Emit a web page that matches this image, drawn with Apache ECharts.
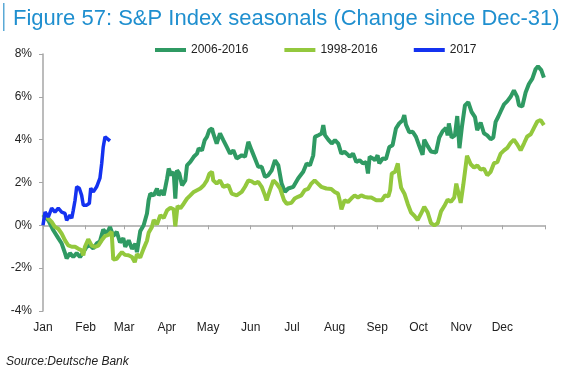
<!DOCTYPE html>
<html><head><meta charset="utf-8">
<script src="https://cdn.jsdelivr.net/npm/echarts@6/dist/echarts.min.js"></script>
<style>html,body{margin:0;padding:0;background:#fff}#c{width:569px;height:385px}</style>
</head><body><div id="c"></div>
<script>
const monthNames = ['Jan','Feb','Mar','Apr','May','Jun','Jul','Aug','Sep','Oct','Nov','Dec'];
const monthStarts = [0,31,59,90,120,151,181,212,243,273,304,334];
const yearEnd = 365;
const yTicks = [-4,-2,0,2,4,6,8];

const days2017 = [0,1.5,3.9,6.3,8.7,11.1,13.6,16,17.2,19.6,20.9,22,23.3,24.5,26.4,28.1,29.3,31.8,33.7,34.7,36.6,39,41.4,42.7,43.8,45.1,46.3,48.7];
const vals2017 = [0,0.62,0.39,0.8,0.62,0.8,0.62,0.56,0.23,0.47,0.33,0.7,1.17,1.8,1.73,1.4,0.94,0.94,1.03,1.73,1.56,1.8,2.2,2.9,3.66,4.13,4.07,3.94];

const days0616 = [0,3.9,7.5,11.1,13.6,16,17.2,19.6,22,24.5,26.9,29.3,31.8,34.2,36.6,39,41.4,43.8,46.3,48.7,51.1,53.6,56,58.4,59.8,62.3,64.7,67.1,68.3,70.7,73.2,75.6,76.8,78,80.5,82.9,84.1,86.5,87.8,90.2,91.4,93.3,95,96.2,97.4,99.1,101.1,103.5,104.7,107.1,109.6,112,113.2,115.6,117.6,119.2,120.9,122.9,123.8,126.3,128.7,131.1,133.6,136,138.4,140.8,144.5,146.9,149.3,151.7,154.1,156.5,159,161.4,163.8,166.3,168.7,171.1,173.5,175.9,178.3,182,185.6,189.2,191.7,194.1,196.5,197.7,200.2,202.6,203.8,205,207.4,209.9,212.3,214.7,216.9,219.3,221.7,223,225.4,227.8,230.2,232.6,235,236.3,237.5,239.9,241.4,243.3,244.5,247,249.4,251.8,254.2,256.6,259,261.5,262.7,263.9,266.3,268.8,271.2,273.6,276,277.2,279.7,282.1,285.7,288.1,290.6,293,294.2,295.1,297.1,299.5,301.2,302.8,304.6,306.8,309.2,311.6,314.1,315.7,318.2,320.6,323,325.5,327.4,329.1,331,333,335.2,337.6,340,342.4,344.8,346.1,348.5,350.9,353.3,355.8,358.2,359.9,362.3,364.2];
const vals0616 = [0.5,0.23,-0.23,-0.6,-0.85,-1.3,-1.55,-1.3,-1.48,-1.3,-1.48,-1.25,-1.0,-0.94,-1.08,-0.85,-0.75,-0.2,-0.4,-0.08,-0.5,-0.3,-0.8,-0.6,-1.0,-0.7,-1.1,-0.86,-1.25,-0.27,0,0.55,1.17,1.48,1.4,1.72,1.4,1.64,1.4,2.18,2.65,2.34,2.5,1.25,2.57,2.42,1.87,2.1,2.8,2.96,3.2,3.35,3.59,3.5,3.98,4.13,4.44,4.52,4.29,3.82,4.29,3.98,3.66,3.35,3.5,3.12,3.27,3.2,3.9,3.5,3.12,2.73,2.73,2.26,2.34,2.57,3.04,2.8,1.95,1.56,1.72,1.8,2.2,2.5,2.89,2.8,3.27,4.13,4.21,4.29,4.68,4.21,4.0,3.82,3.98,3.82,3.35,3.43,3.3,3.2,3.35,2.96,3.04,2.89,2.95,2.42,3.2,3.12,3.04,3.27,2.89,3.12,3.1,3.66,3.74,4.52,4.76,4.91,5.15,4.7,4.35,4.37,4.13,3.7,3.3,4.0,3.7,3.45,3.4,4.1,4.4,4.55,4.2,4.76,4.1,4.2,5.1,3.6,4.6,5.6,5.75,5.3,5.05,4.44,4.8,4.3,4.2,4.02,4.1,4.83,5.07,5.35,5.65,5.8,6.0,6.3,6.0,5.6,5.55,6.2,6.6,6.85,7.3,7.42,7.25,6.9];

const days9816 = [0,2.7,6.3,8.7,11.1,13.6,16,18.4,20.9,23.3,25.7,28.1,29.3,30.5,32.9,35.4,37.8,40.2,42.7,45.1,47.5,49.9,51.1,53.6,56,57.4,59.6,62.1,64.7,66.7,68.3,70.7,73.1,75.6,76.8,79.2,80.5,82.9,85.3,87.8,90.2,92.6,95,96.2,97.8,99.9,102.3,104.7,107.1,109.6,112,114.4,116.9,119.2,120.9,122.9,123.8,126.3,128.7,131.1,134.8,137.2,140.8,144.5,146.9,149.3,151.7,154.1,156.5,159,161.4,162.6,165,167.5,169.9,172.4,175.3,177.2,180.6,183,185.4,187.8,190.3,192.7,195.1,197.5,199.9,202.3,206,209.6,212.1,214.5,215.7,217,219.3,221.7,224.1,226.6,229,231.4,233.9,236.3,238.7,242.3,246.3,248.7,251.1,252.4,253.6,256,258,259.1,260.4,262.8,265.2,267.6,270,272.4,274.9,277.2,279.7,282.1,284.5,287,289.4,291.8,294.2,296.6,299,300.5,301.9,303.7,305.6,308.3,311,313.4,315.8,318.2,320.6,323,325.5,327.9,330.3,332.8,335.2,337.6,340,342.4,344.8,347.3,349.7,352.1,354.6,357,359.4,361.8,364.2];
const vals9816 = [0.5,0.39,0.16,-0.08,-0.16,-0.39,-0.7,-0.94,-1.0,-1.0,-1.09,-1.17,-1.4,-1.0,-0.65,-0.95,-1.01,-0.95,-0.7,-0.5,-0.45,-0.3,-1.6,-1.56,-1.35,-1.25,-1.38,-1.4,-1.48,-1.72,-1.35,-1.5,-1.1,-0.72,-0.35,-0.08,0.25,0.05,0.47,0.35,0.7,0.82,0.75,-0.05,0.9,0.8,1.01,1.25,1.4,1.56,1.64,1.72,1.87,2.1,2.4,2.5,2.1,1.95,2.1,1.8,1.87,1.48,1.4,1.56,1.8,2.1,2.05,1.95,2.03,1.8,1.4,1.17,1.64,2.1,1.95,1.72,1.17,1.01,1.05,1.25,1.33,1.4,1.64,1.7,1.95,2.1,1.95,1.8,1.72,1.7,1.56,1.48,1.17,0.75,1.17,1.09,1.25,1.4,1.3,1.4,1.33,1.3,1.3,1.17,1.17,1.4,1.35,1.64,2.42,2.5,2.89,2.26,1.75,1.48,1.0,0.6,0.45,0.25,0.55,0.86,0.6,0.1,0.0,0.1,0.65,0.9,1.2,1.1,1.3,1.95,1.9,1.05,1.9,3.25,2.85,2.7,2.8,2.6,2.65,2.34,2.5,2.9,2.95,3.35,3.5,3.62,3.85,4.0,3.78,3.5,3.82,4.15,4.25,4.55,4.85,4.92,4.68];

const pairs = (d, v) => d.map((x, i) => [x, v[i]]);
const tickVals = monthStarts.concat([yearEnd]);

const chart = echarts.init(document.getElementById('c'), null, {renderer: 'canvas'});
const axisGrey = '#a6a6a6';
const font = 'Liberation Sans, Arial, sans-serif';
chart.setOption({
  animation: false,
  backgroundColor: '#fff',
  title: {
    text: 'Figure 57: S&P Index seasonals (Change since Dec-31)',
    left: 8, top: 3,
    textStyle: {fontFamily: font, fontSize: 22, fontWeight: 'normal', color: '#1f8fcf'}
  },
  graphic: [
    {type: 'rect', shape: {x: 3, y: 3, width: 1.5, height: 28}, style: {fill: '#5aa9d6'}},
    {type: 'text', left: 6, top: 356, style: {text: 'Source:Deutsche Bank', font: 'italic 12px Liberation Sans, Arial, sans-serif', fill: '#222'}}
  ],
  legend: {
    data: ['2006-2016', '1998-2016', '2017'],
    left: 150, top: 39,
    icon: 'rect',
    itemWidth: 31, itemHeight: 4, itemGap: 36,
    textStyle: {fontFamily: font, fontSize: 12, color: '#222'}
  },
  grid: {left: 43, right: 24, top: 54, bottom: 74, containLabel: false},
  xAxis: [
    {
      type: 'value', min: 0, max: yearEnd,
      axisLine: {onZero: true, lineStyle: {color: axisGrey, width: 1.5}},
      axisTick: {show: true, customValues: tickVals, length: 4, lineStyle: {color: axisGrey}},
      axisLabel: {show: false},
      splitLine: {show: false}
    },
    {
      type: 'value', min: 0, max: yearEnd, position: 'bottom',
      axisLine: {show: false, onZero: false},
      axisTick: {show: false},
      axisLabel: {
        show: true, customValues: monthStarts, margin: 11,
        fontFamily: font, fontSize: 12, color: '#222',
        formatter: v => monthNames[monthStarts.indexOf(Math.round(v))] || ''
      },
      splitLine: {show: false}
    }
  ],
  yAxis: {
    type: 'value', min: yTicks[0], max: yTicks[yTicks.length - 1], interval: 2,
    axisLine: {show: true, lineStyle: {color: axisGrey, width: 1.5}},
    axisTick: {show: true, length: 4, lineStyle: {color: axisGrey}},
    axisLabel: {formatter: '{value}%', margin: 11, fontFamily: font, fontSize: 12, color: '#222'},
    splitLine: {show: false}
  },
  series: [
    {name: '2006-2016', type: 'line', data: pairs(days0616, vals0616), showSymbol: false, symbol: 'none',
     lineStyle: {color: '#2f9a63', width: 4}, itemStyle: {color: '#2f9a63'}, z: 2},
    {name: '1998-2016', type: 'line', data: pairs(days9816, vals9816), showSymbol: false, symbol: 'none',
     lineStyle: {color: '#93c83d', width: 4}, itemStyle: {color: '#93c83d'}, z: 3},
    {name: '2017', type: 'line', data: pairs(days2017, vals2017), showSymbol: false, symbol: 'none',
     lineStyle: {color: '#1432f0', width: 3.5}, itemStyle: {color: '#1432f0'}, z: 4}
  ]
});
</script></body></html>
